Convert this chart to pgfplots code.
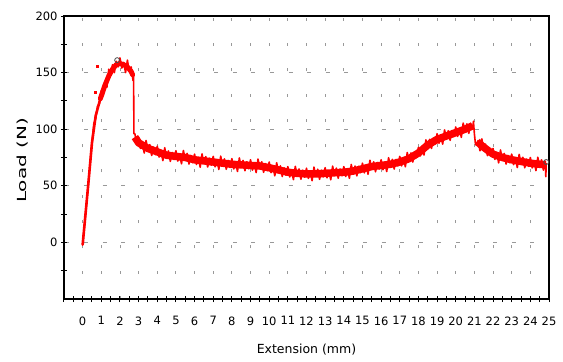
\documentclass[border=0pt]{standalone}
\usepackage{pgfplots}
\pgfplotsset{compat=1.18}
\usepackage{fontspec}
\setmainfont{DejaVu Sans}
\begin{document}
\begin{tikzpicture}
\begin{axis}[
  scale only axis, width=485bp, height=283bp,
  xmin=-1, xmax=25, ymin=-50, ymax=200,
  axis line style={line width=1.3bp, black},
  xtick={0,...,25}, minor xtick={-1,-0.5,...,24.5},
  ytick={0,50,...,200}, minor ytick={-25,25,75,125,175},
  tick align=center, major tick length=6bp, minor tick length=6bp,
  every tick/.style={black, line width=1bp},
  xtick pos=bottom, ytick pos=left,
  xmajorgrids, ymajorgrids,
  x grid style={gray!80, line width=0.9bp, dash pattern=on 3bp off 22.3bp},
  y grid style={gray!80, line width=0.9bp, dash pattern=on 4bp off 14.6bp, dash phase=17.2bp},
  /pgf/number format/assume math mode=true,
  tick label style={font=\fontsize{11.5bp}{13bp}\selectfont, black},
  xticklabel style={yshift=-11bp},
  every axis x label/.style={at={(rel axis cs:0.5,0)}, yshift=-51bp, anchor=center, font=\fontsize{12.5bp}{14bp}\selectfont},
  every axis y label/.style={at={(rel axis cs:0,0.5)}, xshift=-41bp, yshift=-3bp, rotate=90, anchor=center, font=\fontsize{12.5bp}{14bp}\selectfont},
  xlabel={Extension (mm)},
  ylabel={\scalebox{1.6}[1]{Load (N)}},
]
\coordinate (bl) at (rel axis cs:0,0);
\coordinate (tr) at (rel axis cs:1,1);
% thick core of the noisy band
\addplot[red, line width=2.6bp, line cap=round, line join=round] coordinates {
(0.0,-2)(0.3,51)(0.5,88)(0.7,112)(0.9,124)(1.1,134)
};
\addplot[red, line width=5bp, line cap=round, line join=round] coordinates {
(0.95,127)(1.2,139)(1.4,147)(1.6,153)(1.8,157)(2.0,158)(2.2,157)(2.4,155)(2.6,151)(2.68,148)
};
\addplot[red, line width=7.5bp, line cap=butt, line join=round] coordinates {
(2.8,93)(3.0,88)(3.5,83)(4.0,80)(4.5,77)(5.0,76)(5.5,75)(6.0,73)(6.5,72)(7.0,71)(7.5,70)(8.0,69)(8.5,68.5)(9.0,68)(9.5,67.5)(10.0,66)(10.5,64)(11.0,62)(11.5,61)(12.0,60.5)(12.5,60.5)(13.0,61)(13.5,61.5)(14.0,62)(14.5,63)(15.0,65)(15.5,67)(16.0,68)(16.5,69)(17.0,71)(17.5,74)(18.0,79)(18.5,86)(19.0,91)(19.5,94)(20.0,97)(20.5,100)(20.9,103)
};
\addplot[red, line width=7.5bp, line cap=butt, line join=round] coordinates {
(21.15,89)(21.5,84)(22.0,78)(22.5,75)(23.0,73)(23.5,71.5)(24.0,70)(24.5,69)(24.8,68.7)
};
% measured signal
\addplot[red, line width=1.6bp, line join=round] coordinates {
(0.0,-2)(0.1,15)(0.2,33)(0.3,51)(0.4,70)(0.5,88)(0.6,105)(0.7,109.5)(0.8,120.5)(0.9,122.5)
(1.0,134)(1.1,130)(1.2,141)(1.3,137)(1.4,153)(1.5,148)(1.6,157)(1.7,150)(1.8,160)(1.9,155)
(2.0,163)(2.1,154)(2.2,159)(2.3,150)(2.4,161)(2.5,151)(2.6,155)(2.7,143)(2.73,146)(2.75,96)
(2.8,96)(2.9,87)(3.0,93)(3.1,83)(3.2,88)(3.3,79)(3.4,90)(3.5,81)(3.6,86.4)(3.7,76.8)(3.8,84.2)(3.9,77.6)
(4.0,85)(4.1,75.4)(4.2,80.8)(4.3,72.2)(4.4,83.6)(4.5,75)(4.6,80.8)(4.7,71.6)(4.8,79.4)(4.9,73.2)
(5.0,81)(5.1,71.8)(5.2,77.6)(5.3,69.4)(5.4,81.2)(5.5,73)(5.6,78.6)(5.7,69.2)(5.8,76.8)(5.9,70.4)
(6.0,78)(6.1,68.8)(6.2,74.6)(6.3,66.4)(6.4,78.2)(6.5,70)(6.6,75.8)(6.7,66.6)(6.8,74.4)(6.9,68.2)
(7.0,76)(7.1,66.8)(7.2,72.6)(7.3,64.4)(7.4,76.2)(7.5,68)(7.6,73.8)(7.7,64.6)(7.8,72.4)(7.9,66.2)
(8.0,74)(8.1,64.9)(8.2,70.8)(8.3,62.7)(8.4,74.6)(8.5,66.5)(8.6,72.4)(8.7,63.3)(8.8,71.2)(8.9,65.1)
(9.0,73)(9.1,63.9)(9.2,69.8)(9.3,61.7)(9.4,73.6)(9.5,65.5)(9.6,71.2)(9.7,61.9)(9.8,69.6)(9.9,63.3)
(10.0,71)(10.1,61.6)(10.2,67.2)(10.3,58.8)(10.4,70.4)(10.5,62)(10.6,67.6)(10.7,58.2)(10.8,65.8)(10.9,59.4)
(11.0,67)(11.1,57.8)(11.2,63.6)(11.3,55.4)(11.4,67.2)(11.5,59)(11.6,64.9)(11.7,55.8)(11.8,63.7)(11.9,57.6)
(12.0,65.5)(12.1,56.5)(12.2,62.5)(12.3,54.5)(12.4,66.5)(12.5,58.5)(12.6,64.6)(12.7,55.7)(12.8,63.8)(12.9,57.9)
(13.0,66)(13.1,57.1)(13.2,63.2)(13.3,55.3)(13.4,67.4)(13.5,59.5)(13.6,65.6)(13.7,56.7)(13.8,64.8)(13.9,58.9)
(14.0,67)(14.1,58.2)(14.2,64.4)(14.3,56.6)(14.4,68.8)(14.5,61)(14.6,67.4)(14.7,58.8)(14.8,67.2)(14.9,61.6)
(15.0,70)(15.1,61.4)(15.2,67.8)(15.3,60.2)(15.4,72.6)(15.5,65)(15.6,71.2)(15.7,62.4)(15.8,70.6)(15.9,64.8)
(16.0,73)(16.1,64.2)(16.2,70.4)(16.3,62.6)(16.4,74.8)(16.5,67)(16.6,73.4)(16.7,64.8)(16.8,73.2)(16.9,67.6)
(17.0,76)(17.1,67.6)(17.2,74.2)(17.3,66.8)(17.4,79.4)(17.5,72)(17.6,79)(17.7,71)(17.8,80)(17.9,75)
(18.0,84)(18.1,76.4)(18.2,83.8)(18.3,77.2)(18.4,90.6)(18.5,84)(18.6,91)(18.7,83)(18.8,92)(18.9,87)
(19.0,96)(19.1,87.6)(19.2,94.2)(19.3,86.8)(19.4,99.4)(19.5,92)(19.6,98.6)(19.7,90.2)(19.8,98.8)(19.9,93.4)
(20.0,102)(20.1,93.6)(20.2,100.2)(20.3,92.8)(20.4,105.4)(20.5,98)(20.6,104.7)(20.7,96.3)(20.8,105)(20.9,100)
(20.95,107)(21.0,96)(21.05,88)(21.1,86)(21.2,90)(21.3,81)(21.4,91.5)(21.5,82)(21.6,86.8)(21.7,76.6)(21.8,83.4)(21.9,76.2)
(22.0,83)(22.1,73.4)(22.2,78.8)(22.3,70.2)(22.4,81.6)(22.5,73)(22.6,78.6)(22.7,69.2)(22.8,76.8)(22.9,70.4)
(23.0,78)(23.1,68.7)(23.2,74.4)(23.3,66.1)(23.4,77.8)(23.5,69.5)(23.6,75.2)(23.7,65.9)(23.8,73.6)(23.9,67.3)
(24.0,75)(24.1,65.8)(24.2,71.6)(24.3,63.4)(24.4,75.2)(24.5,67)(24.6,72.9)(24.7,63.8)(24.8,71.7)(24.83,58)(24.85,70)
};
% stray samples
\addplot[only marks, red, mark=square*, mark size=1bp] coordinates {(0.8,155.5)(0.68,133)};
% end-point markers
\addplot[only marks, mark=o, mark size=2.5bp, black!70, line width=0.8bp] coordinates {(1.85,161)(24.85,71)};
\end{axis}
\pgfresetboundingbox
\path[use as bounding box] ([xshift=-64bp,yshift=-63bp]bl) rectangle ([xshift=14bp,yshift=16bp]tr);
\end{tikzpicture}
\end{document}
